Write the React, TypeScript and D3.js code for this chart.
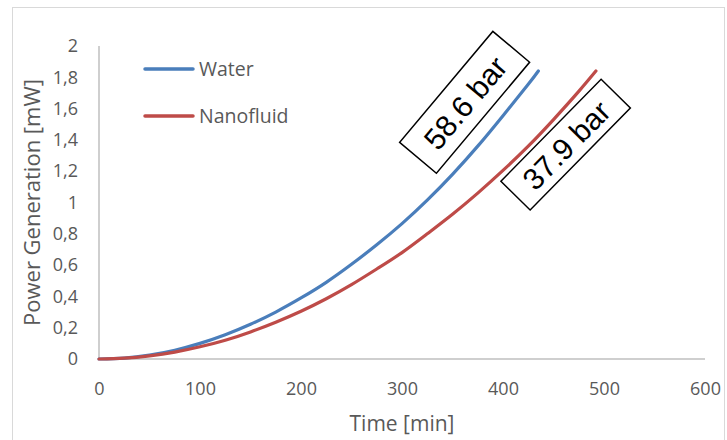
import React, { useEffect, useRef } from 'react';
import * as d3 from 'd3';

const width = 727;
const height = 440;
const margin = { top: 46, right: 22, bottom: 81, left: 99 };

// Time [min] and power [mW]
const waterTime = [0, 25, 50, 75, 100, 125, 150, 175, 200, 225, 250, 275, 300, 325, 350, 375, 400, 425, 435];
const waterPower = [0, 0.006, 0.025, 0.056, 0.1, 0.155, 0.222, 0.3, 0.39, 0.49, 0.605, 0.73, 0.865, 1.015, 1.18, 1.36, 1.555, 1.755, 1.84];

const nanoTime = [0, 25, 50, 75, 100, 125, 150, 175, 200, 225, 250, 275, 300, 325, 350, 375, 400, 425, 450, 475, 492];
const nanoPower = [0, 0.005, 0.02, 0.044, 0.078, 0.12, 0.173, 0.235, 0.305, 0.385, 0.475, 0.575, 0.68, 0.8, 0.925, 1.06, 1.205, 1.36, 1.53, 1.71, 1.84];

const xTicks = [0, 100, 200, 300, 400, 500, 600];
const yTicks = [0, 0.2, 0.4, 0.6, 0.8, 1, 1.2, 1.4, 1.6, 1.8, 2];

const seriesNames = ['Water', 'Nanofluid'];
const seriesColors = ['#4a7ebb', '#be4b48'];

// pressure labels and where their boxes sit (data units)
const pressureLabels = ['58.6 bar', '37.9 bar'];
const labelAnchors = [[362, 1.64], [462, 1.37]];

const App = () => {
  const svgRef = useRef<SVGSVGElement>(null);

  useEffect(() => {
    const svg = d3.select(svgRef.current);
    svg.selectAll('*').remove();

    const font = '"Open Sans", sans-serif';
    const grey = '#595959';

    // outer frame
    svg.append('rect')
      .attr('x', 12.5).attr('y', 7.5)
      .attr('width', 712).attr('height', 460)
      .attr('fill', 'white')
      .attr('stroke', '#d9d9d9');

    const x = d3.scaleLinear().domain([0, 600]).range([margin.left, width - margin.right]);
    const y = d3.scaleLinear().domain([0, 2]).range([height - margin.bottom, margin.top]);

    // axis lines
    svg.append('line')
      .attr('x1', x(0)).attr('x2', x(0))
      .attr('y1', y(2)).attr('y2', y(0))
      .attr('stroke', '#bfbfbf').attr('stroke-width', 1.5);
    svg.append('line')
      .attr('x1', x(0)).attr('x2', x(600))
      .attr('y1', y(0)).attr('y2', y(0))
      .attr('stroke', '#bfbfbf').attr('stroke-width', 1.5);

    const yAxis = svg.append('g')
      .attr('transform', `translate(${x(0)},0)`)
      .call(d3.axisLeft(y).tickValues(yTicks).tickSize(0).tickPadding(21)
        .tickFormat(d => String(d).replace('.', ',')));
    yAxis.select('.domain').remove();
    yAxis.selectAll('text')
      .attr('font-family', font).attr('font-size', 18).attr('fill', grey);

    const xAxis = svg.append('g')
      .attr('transform', `translate(0,${y(0)})`)
      .call(d3.axisBottom(x).tickValues(xTicks).tickSize(0).tickPadding(23)
        .tickFormat(d3.format('d')));
    xAxis.select('.domain').remove();
    xAxis.selectAll('text')
      .attr('font-family', font).attr('font-size', 18).attr('fill', grey);

    // curves
    const line = d3.line<[number, number]>()
      .x(d => x(d[0]))
      .y(d => y(d[1]))
      .curve(d3.curveNatural);

    const series = [
      waterTime.map((t, i) => [t, waterPower[i]] as [number, number]),
      nanoTime.map((t, i) => [t, nanoPower[i]] as [number, number]),
    ];

    series.forEach((pts, i) => {
      svg.append('path')
        .attr('d', line(pts))
        .attr('fill', 'none')
        .attr('stroke', seriesColors[i])
        .attr('stroke-width', 3.2)
        .attr('stroke-linecap', 'round');
    });

    // legend
    const legend = svg.append('g');
    seriesNames.forEach((name, i) => {
      const ly = 69 + i * 47;
      legend.append('line')
        .attr('x1', 145).attr('x2', 193)
        .attr('y1', ly).attr('y2', ly)
        .attr('stroke', seriesColors[i])
        .attr('stroke-width', 3.5)
        .attr('stroke-linecap', 'round');
      legend.append('text')
        .attr('x', 199).attr('y', ly + 7)
        .attr('font-family', font).attr('font-size', 19.5)
        .attr('fill', grey)
        .text(name);
    });

    // pressure boxes
    const boxSizes = [[145, 48], [143, 41]];
    const boxAngles = [-50, -45.5];
    pressureLabels.forEach((lab, i) => {
      const [bw, bh] = boxSizes[i];
      const g = svg.append('g')
        .attr('transform', `translate(${x(labelAnchors[i][0])},${y(labelAnchors[i][1])}) rotate(${boxAngles[i]})`);
      g.append('rect')
        .attr('x', -bw / 2).attr('y', -bh / 2)
        .attr('width', bw).attr('height', bh)
        .attr('fill', 'white')
        .attr('stroke', 'black')
        .attr('stroke-width', 1.5);
      g.append('text')
        .attr('y', 1)
        .attr('text-anchor', 'middle')
        .attr('dominant-baseline', 'central')
        .attr('font-family', '"Liberation Sans", Arial, sans-serif')
        .attr('font-size', 30)
        .attr('fill', 'black')
        .text(lab);
    });

    // axis titles
    svg.append('text')
      .attr('transform', `translate(40,${y(1)}) rotate(-90)`)
      .attr('text-anchor', 'middle')
      .attr('font-family', font).attr('font-size', 22)
      .attr('fill', grey)
      .text('Power Generation [mW]');

    svg.append('text')
      .attr('x', 402).attr('y', 431)
      .attr('text-anchor', 'middle')
      .attr('font-family', font).attr('font-size', 21)
      .attr('fill', grey)
      .text('Time [min]');
  }, []);

  return (
    <svg
      ref={svgRef}
      width={width}
      height={height}
      style={{ position: 'absolute', left: 0, top: 0, background: 'white' }}
    />
  );
};

export default App;
